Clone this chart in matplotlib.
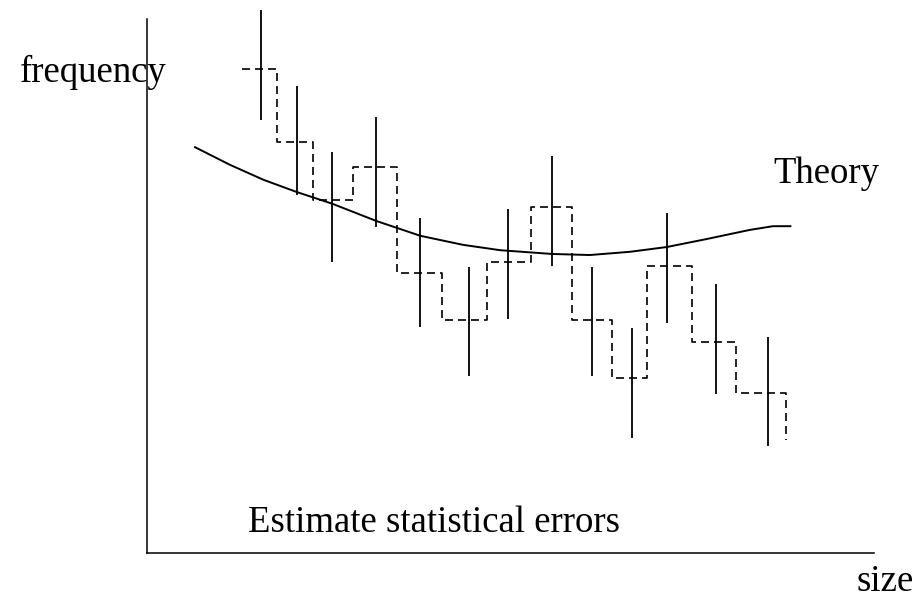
import numpy as np
import matplotlib
matplotlib.use("Agg")
import matplotlib.pyplot as plt

# --------------------------------------------
# Data (arbitrary units 0..100)
# --------------------------------------------
bin_edges = [13.1, 17.9, 22.8, 28.3, 34.4, 40.6, 46.8, 52.8, 58.5, 64.0, 68.8, 75.0, 81.0, 87.9]
bin_heights = [90.6, 77.0, 66.1, 72.3, 52.4, 43.6, 54.5, 64.8, 43.6, 32.8, 53.7, 39.5, 30.0]
last_edge_drop = 21.2

err_x = [15.7, 20.6, 25.5, 31.5, 37.6, 44.3, 49.7, 55.7, 61.2, 66.7, 71.5, 78.3, 85.4]
err_lo = [81.1, 67.0, 54.5, 61.0, 42.3, 33.1, 43.8, 53.7, 33.1, 21.5, 43.1, 29.8, 20.0]
err_hi = [101.7, 87.5, 75.1, 81.6, 62.7, 53.6, 64.4, 74.3, 53.6, 42.1, 63.7, 50.4, 40.4]

theory_x = [6.6, 11.4, 16.0, 20.6, 25.5, 31.5, 37.6, 43.5, 48.6, 55.7, 60.9,
            66.4, 71.5, 77.0, 82.9, 86.1, 88.5]
theory_y = [76.0, 72.7, 69.9, 67.6, 65.4, 62.2, 59.4, 57.7, 56.7, 56.0, 55.8,
            56.4, 57.3, 58.8, 60.5, 61.2, 61.2]

# --------------------------------------------
# Figure
# --------------------------------------------
plt.rcParams["font.family"] = ["Liberation Serif", "DejaVu Serif"]
FS = 26.5

fig = plt.figure(figsize=(9.18, 6.01), dpi=100)
ax = fig.add_axes([147 / 918, 48 / 601, 727 / 918, 534 / 601])
ax.set_xlim(0, 100)
ax.set_ylim(0, 100)

for side in ("top", "right"):
    ax.spines[side].set_visible(False)
for side in ("left", "bottom"):
    ax.spines[side].set_linewidth(1.1)
ax.set_xticks([])
ax.set_yticks([])

# dashed step histogram
xs = np.repeat(bin_edges, 2)[1:-1]
ys = np.repeat(bin_heights, 2)
xs = np.append(xs, bin_edges[-1])
ys = np.append(ys, last_edge_drop)
ax.plot(xs, ys, color="black", linewidth=1.2, linestyle=(0, (4.8, 3.0)), clip_on=False)

# error bars
ax.vlines(err_x, err_lo, err_hi, color="black", linewidth=1.3, clip_on=False)

# theory curve
ax.plot(theory_x, theory_y, color="black", linewidth=1.4, clip_on=False,
        solid_joinstyle="round")

# labels
ax.text(-17.5, 88.2, "frequency", fontsize=FS, ha="left", va="baseline", clip_on=False)
ax.text(86.1, 69.3, "Theory", fontsize=FS, ha="left", va="baseline", clip_on=False)
ax.text(13.9, 3.9, "Estimate statistical errors", fontsize=FS, ha="left", va="baseline", clip_on=False)
ax.text(97.6, -7.2, "size", fontsize=FS, ha="left", va="baseline", clip_on=False)

fig.savefig("out.png", dpi=100)
